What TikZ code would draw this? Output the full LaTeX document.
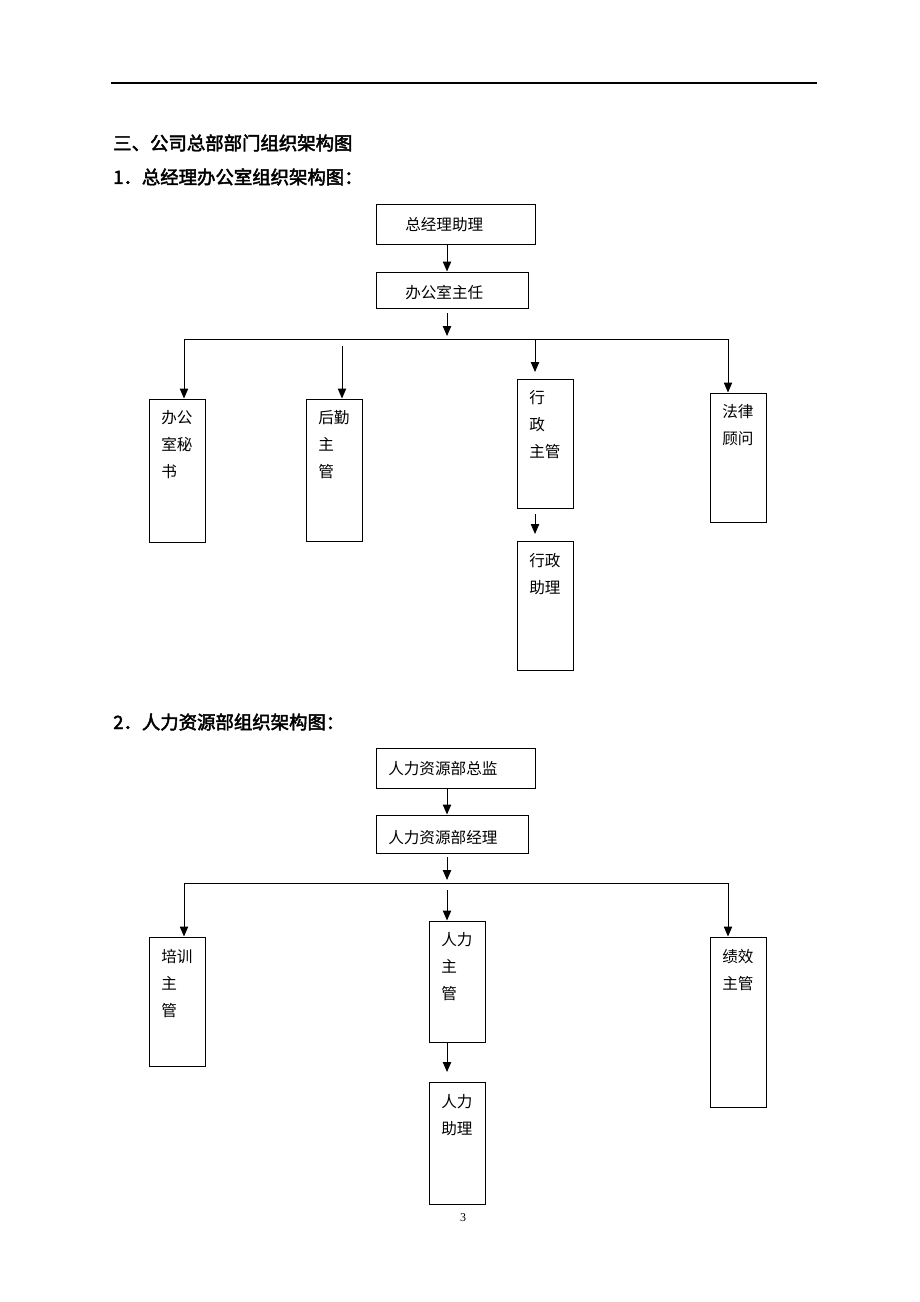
\documentclass[tikz,border=0pt]{standalone}
\usepackage{fontspec}
\setmainfont{Liberation Serif}
\newfontfamily\cjk{Noto Sans CJK SC}
\newfontfamily\cjkbold[FakeBold=2.5]{Noto Sans CJK SC}
\usetikzlibrary{arrows.meta,fit}
\begin{document}
\begin{tikzpicture}[x=0.75pt,y=-0.75pt,
  orgbox/.style={draw,line width=0.75pt,inner sep=0pt},
  boxtext/.style={anchor=base west,align=left,inner sep=0pt,
    font={\fontsize{11.7}{20.25}\selectfont\cjk}},
  stacktext/.style={boxtext,anchor=north west},
  titletext/.style={anchor=base west,inner sep=0pt,
    font={\fontsize{13.8}{16}\selectfont\cjkbold}},
  arr/.style={line width=0.75pt,-{Triangle[length=7.5pt,width=6.3pt]}},
  busline/.style={line width=0.75pt}]
\useasboundingbox (0,0) rectangle (920,1302);
% header rule
\coordinate (hl) at (111,83);
\coordinate (hr) at (817,83);
\draw[line width=0.9pt] (hl) -- (hr);
% titles
\node[titletext] (t0) at (113,150) {三、公司总部部门组织架构图};
\node[titletext] (t1) at (113,184) {1．总经理办公室组织架构图：};
\node[titletext] (t2) at (113,729) {2．人力资源部组织架构图：};

% ---------- section 1 ----------
\node[orgbox,fit={(376,204)(535,244)}] (zj) {};
\node[boxtext] (zjt) at (405,230) {总经理助理};
\node[orgbox,fit={(376,272)(528,308)}] (bz) {};
\node[boxtext] (bzt) at (405,298) {办公室主任};

\node[orgbox,fit={(149,399)(205,542)}] (ms) {};
\node[stacktext] (mst) at (161,410) {办公\\室秘\\书};
\node[orgbox,fit={(306,399)(362,541)}] (hq) {};
\node[stacktext] (hqt) at (318,410) {后勤\\主\\管};
\node[orgbox,fit={(517,379)(573,508)}] (xz) {};
\node[stacktext] (xzt) at (529,390) {行\\政\\主管};
\node[orgbox,fit={(710,393)(766,522)}] (fl) {};
\node[stacktext] (flt) at (722,404) {法律\\顾问};
\node[orgbox,fit={(517,541)(573,670)}] (xzzl) {};
\node[stacktext] (xzzlt) at (529,553) {行政\\助理};

\coordinate (c447) at (447,0);
\coordinate (a1s) at (447,313);
\coordinate (a1e) at (447,336);
\coordinate (busL) at (184,339);
\coordinate (busR) at (728,339);
\coordinate (hqs) at (342,346);
\coordinate (xzs) at (535,339);
\coordinate (xze) at (535,372);
\coordinate (xz2s) at (535,514);
\coordinate (xz2e) at (535,534);

\draw[arr] (c447 |- zj.south) -- (c447 |- bz.north);
\draw[arr] (a1s) -- (a1e);
\draw[busline] (busL) -- (busR);
\draw[arr] (busL) -- (busL |- ms.north);
\draw[arr] (hqs) -- (hqs |- hq.north);
\draw[arr] (xzs) -- (xze);
\draw[arr] (busR) -- (busR |- fl.north);
\draw[arr] (xz2s) -- (xz2e);

% ---------- section 2 ----------
\node[orgbox,fit={(376,748)(535,788)}] (zs) {};
\node[boxtext] (zst) at (388,774) {人力资源部总监};
\node[orgbox,fit={(376,815)(528,853)}] (jl) {};
\node[boxtext] (jlt) at (388,843) {人力资源部经理};

\node[orgbox,fit={(149,937)(205,1066)}] (px) {};
\node[stacktext] (pxt) at (161,949) {培训\\主\\管};
\node[orgbox,fit={(429,921)(485,1042)}] (rl) {};
\node[stacktext] (rlt) at (441,932) {人力\\主\\管};
\node[orgbox,fit={(429,1082)(485,1204)}] (rlzl) {};
\node[stacktext] (rlzlt) at (441,1094) {人力\\助理};
\node[orgbox,fit={(710,937)(766,1107)}] (jx) {};
\node[stacktext] (jxt) at (722,949) {绩效\\主管};

\coordinate (b1s) at (447,857);
\coordinate (b1e) at (447,880);
\coordinate (bus2L) at (184,883);
\coordinate (bus2R) at (728,883);
\coordinate (rls) at (447,890);
\coordinate (zl2e) at (447,1072);

\draw[arr] (c447 |- zs.south) -- (c447 |- jl.north);
\draw[arr] (b1s) -- (b1e);
\draw[busline] (bus2L) -- (bus2R);
\draw[arr] (bus2L) -- (bus2L |- px.north);
\draw[arr] (rls) -- (rls |- rl.north);
\draw[arr] (c447 |- rl.south) -- (zl2e);
\draw[arr] (bus2R) -- (bus2R |- jx.north);

% page number
\node[inner sep=0pt,font=\fontsize{9}{10}\selectfont] (pg) at (463,1218) {3};
\end{tikzpicture}
\end{document}
